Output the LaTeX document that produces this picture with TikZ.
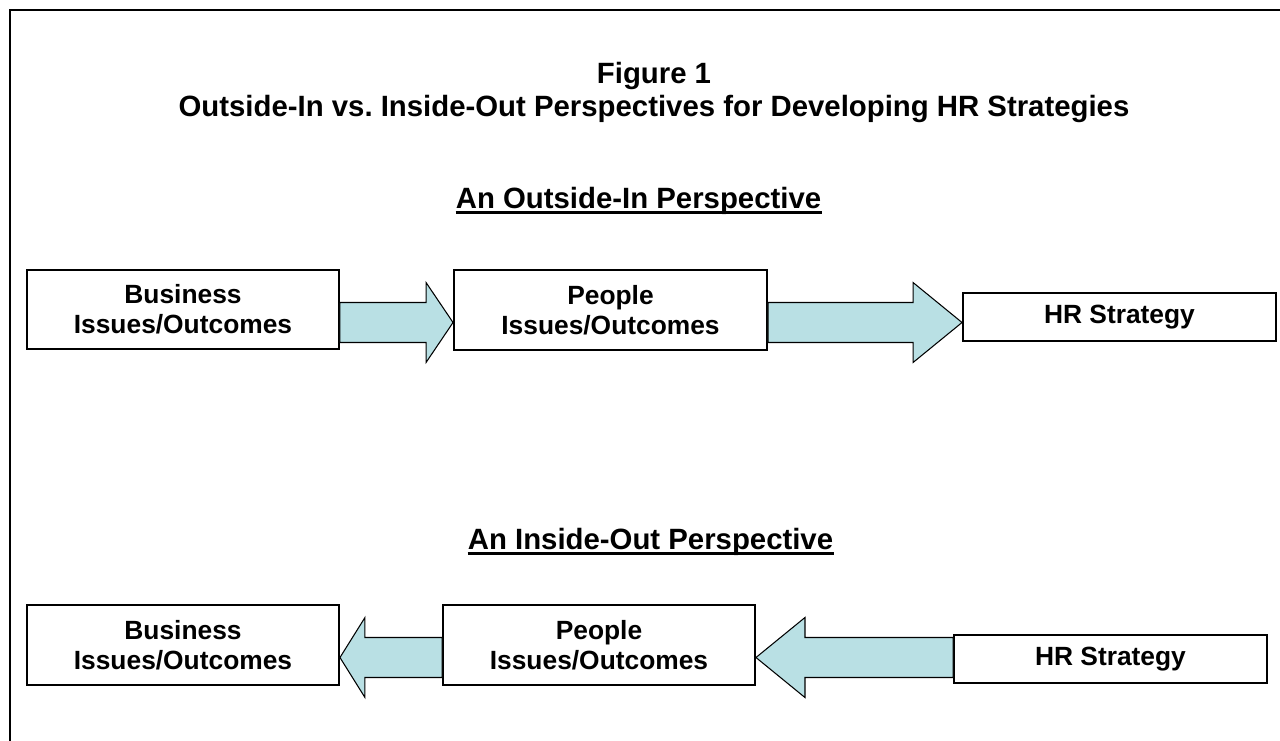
\documentclass[tikz,border=0pt]{standalone}
\usepackage{fontspec}
\setmainfont{Liberation Sans}
\usepackage{tikz}
\usetikzlibrary{calc}
\frenchspacing
\definecolor{arrowteal}{RGB}{185,224,228}
\tikzset{
  box/.style={draw, line width=1.1pt, fill=white, align=center, inner sep=0pt,
    font=\fontsize{15}{17}\selectfont\bfseries},
  heading/.style={anchor=base, inner sep=0pt, font=\fontsize{16.7}{19}\selectfont\bfseries},
  fatarrow/.style={draw, fill=arrowteal, line width=0.6pt, line join=miter}
}
% block arrow: start anchor, tip anchor, row coordinate, signed head length
\newcommand{\blockarrow}[4]{%
  \draw[fatarrow] let \p1=(#1), \p2=(#2), \p3=(#3) in
    (\x1,{\y3+0.4cm}) -- ({\x2-(#4)},{\y3+0.4cm}) -- ({\x2-(#4)},{\y3+0.8cm})
    -- (\x2,\y3) -- ({\x2-(#4)},{\y3-0.8cm}) -- ({\x2-(#4)},{\y3-0.4cm})
    -- (\x1,{\y3-0.4cm}) -- cycle;}

\begin{document}
\begin{tikzpicture}
\useasboundingbox (0,0) rectangle (25.6,-14.8);
\clip (0,0) rectangle (25.6,-14.8);
% Frame
\draw[line width=1.1pt] (0.2,-0.2) rectangle (26,-15.2);

% Titles
\node[heading] (fig) at (13.08,-1.66) {Figure 1};
\node[heading] (title) at (13.08,-2.32) {Outside-In vs.\ Inside-Out Perspectives for Developing HR Strategies};

% Outside-in
\node[heading] (outin) at (12.77,-4.16) {An Outside-In Perspective};
\draw[line width=1.2pt] ($(outin.base west)+(0,-0.09)$) -- ($(outin.base east)+(0,-0.09)$);
\coordinate (row1) at (0,-6.45);
\node[box, minimum width=6.24cm, minimum height=1.58cm] (bus1) at (3.66,-6.19) {Business\\Issues/Outcomes};
\node[box, minimum width=6.26cm, minimum height=1.6cm] (ppl1) at (12.21,-6.2) {People\\Issues/Outcomes};
\node[box, minimum width=6.26cm, minimum height=0.96cm] (hr1) at (22.39,-6.34) {HR Strategy};
\blockarrow{bus1.east}{ppl1.west}{row1}{0.54cm}
\blockarrow{ppl1.east}{hr1.west}{row1}{0.98cm}

% Inside-out
\node[heading] (inout) at (13.01,-10.98) {An Inside-Out Perspective};
\draw[line width=1.2pt] ($(inout.base west)+(0,-0.09)$) -- ($(inout.base east)+(0,-0.09)$);
\coordinate (row2) at (0,-13.15);
\node[box, minimum width=6.24cm, minimum height=1.6cm] (bus2) at (3.66,-12.9) {Business\\Issues/Outcomes};
\node[box, minimum width=6.24cm, minimum height=1.6cm] (ppl2) at (11.98,-12.9) {People\\Issues/Outcomes};
\node[box, minimum width=6.26cm, minimum height=0.96cm] (hr2) at (22.21,-13.18) {HR Strategy};
\blockarrow{ppl2.west}{bus2.east}{row2}{-0.5cm}
\blockarrow{hr2.west}{ppl2.east}{row2}{-0.98cm}
\end{tikzpicture}
\end{document}
